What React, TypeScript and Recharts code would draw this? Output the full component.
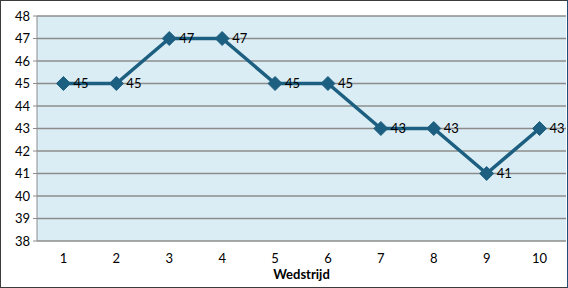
import React from 'react';
import { LineChart, Line, XAxis, YAxis, CartesianGrid, LabelList } from 'recharts';

const matches = [1, 2, 3, 4, 5, 6, 7, 8, 9, 10];
const values = [45, 45, 47, 47, 45, 45, 43, 43, 41, 43];
const yTicks = [38, 39, 40, 41, 42, 43, 44, 45, 46, 47, 48];
const boundaryTicks = [0.5, 1.5, 2.5, 3.5, 4.5, 5.5, 6.5, 7.5, 8.5, 9.5, 10.5];

const data = matches.map((m, i) => ({ x: m, v: values[i] }));

const FONT = 'Lato, "Open Sans", sans-serif';
const LINE = '#1d5f80';

const Diamond = (props: any) => {
  const { cx, cy } = props;
  if (cx == null || cy == null) return null;
  const r = 7;
  return (
    <polygon
      points={`${cx},${cy - r} ${cx + r},${cy} ${cx},${cy + r} ${cx - r},${cy}`}
      fill={LINE}
      stroke={LINE}
      strokeWidth={1}
    />
  );
};

export default function App() {
  return (
    <div
      style={{
        position: 'absolute',
        left: 0,
        top: 0,
        width: 566,
        height: 286,
        border: '1px solid #3c3c3c',
        borderRightColor: '#1f4e79',
        background: '#ffffff',
      }}
    >
      <LineChart width={566} height={286} data={data} margin={{ top: 15, right: 1, bottom: 0, left: 0 }}>
        <CartesianGrid vertical={false} stroke="#8c8c8c" strokeWidth={1.5} fill="#dbedf4" fillOpacity={1} yAxisId="y" xAxisId="main" />
        <XAxis
          xAxisId="bounds"
          type="number"
          dataKey="x"
          domain={[0.5, 10.5]}
          ticks={boundaryTicks}
          tick={false}
          tickSize={4}
          tickLine={{ stroke: '#8c8c8c' }}
          axisLine={{ stroke: '#8c8c8c' }}
          height={0}
          allowDataOverflow
        />
        <XAxis
          xAxisId="main"
          type="number"
          dataKey="x"
          domain={[0.5, 10.5]}
          ticks={matches}
          interval={0}
          tickLine={false}
          axisLine={false}
          tickSize={4}
          tickMargin={9}
          height={46}
          tick={{ fill: '#000', fontSize: 13, fontFamily: FONT }}
          label={{ value: 'Wedstrijd', position: 'insideBottom', offset: 8, fill: '#000', fontSize: 13, fontWeight: 'bold', fontFamily: FONT }}
          allowDataOverflow
        />
        <YAxis
          yAxisId="y"
          type="number"
          domain={[38, 48]}
          ticks={yTicks}
          interval={0}
          width={36}
          tickSize={4}
          tickMargin={3}
          tickLine={{ stroke: '#8c8c8c' }}
          axisLine={{ stroke: '#8c8c8c' }}
          tick={{ fill: '#000', fontSize: 13, fontFamily: FONT }}
        />
        <Line
          xAxisId="main"
          yAxisId="y"
          type="linear"
          dataKey="v"
          stroke={LINE}
          strokeWidth={3.5}
          dot={<Diamond />}
          activeDot={false}
          isAnimationActive={false}
        >
          <LabelList dataKey="v" position="right" offset={10} fill="#000" fontSize={13} fontFamily={FONT} />
        </Line>
      </LineChart>
    </div>
  );
}
